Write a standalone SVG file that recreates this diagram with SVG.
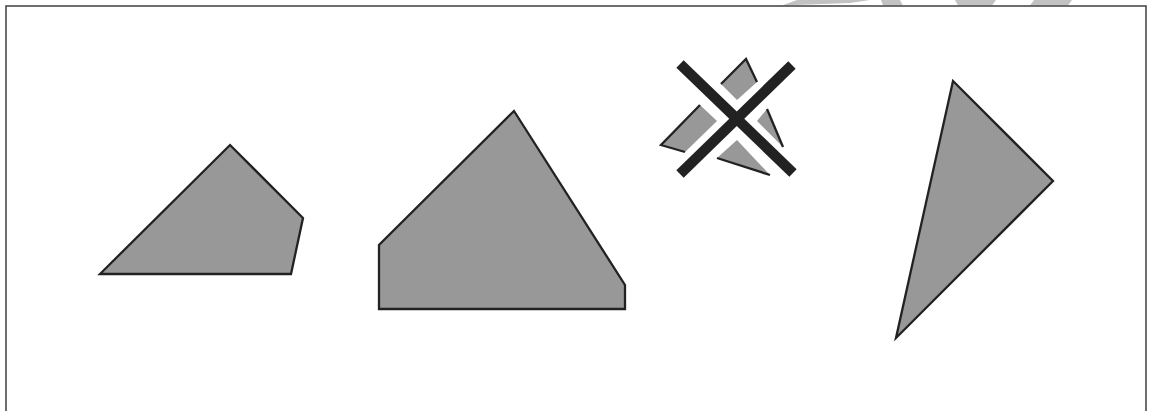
<svg xmlns="http://www.w3.org/2000/svg" width="1155" height="411" viewBox="0 0 1155 411">
  <style>
    .shape { fill: #989898; stroke: #222; stroke-width: 2.3; stroke-linejoin: miter; }
    .piece { fill: #989898; stroke: none; }
    .edge { fill: none; stroke: #222; stroke-width: 2.3; stroke-linejoin: miter; }
    .wm { fill: #c2c2c2; }
    .frame { fill: none; stroke: #4a4a4a; stroke-width: 1.6; }
    .xbar { stroke: #222; stroke-width: 10.5; stroke-linecap: butt; }
  </style>
  <rect width="1155" height="411" fill="#fff"/>
  <g id="watermark">
    <polygon class="wm" points="782,5.5 797,0 870,0 850,3"/>
    <polygon class="wm" points="881,0 900,0 903,5.5 883,5.5"/>
    <polygon class="wm" points="955,0 996,0 992,5.5 958,5.5"/>
    <polygon class="wm" points="1034,0 1072,0 1068,5.5 1030,5.5"/>
  </g>
  <rect id="frame" class="frame" x="6" y="6" width="1140" height="420"/>
  <g id="shape-pentagon">
    <polygon class="shape" points="230,145 303,218 291,274 100,274"/>
  </g>
  <g id="shape-house">
    <polygon class="shape" points="514,111 625,285 625,309 379,309 379,245"/>
  </g>
  <g id="shape-crossed">
    <polygon class="piece" points="721,84 746,59 757,82 737,100"/>
    <polyline class="edge" points="721,84 746,59 757,82"/>
    <polygon class="piece" points="767,109 783,147 757,121"/>
    <polyline class="edge" points="767,109 783,147"/>
    <polygon class="piece" points="737,140 770,175 717,158"/>
    <polyline class="edge" points="717,158 770,175"/>
    <polygon class="piece" points="700,105 717,121 685,152 661,145"/>
    <polyline class="edge" points="685,152 661,145 700,105"/>
    <line class="xbar" x1="680" y1="64" x2="793" y2="173"/>
    <line class="xbar" x1="792" y1="65" x2="680" y2="174"/>
  </g>
  <g id="shape-triangle">
    <polygon class="shape" points="953,81 1053,181 896,338"/>
  </g>
</svg>
